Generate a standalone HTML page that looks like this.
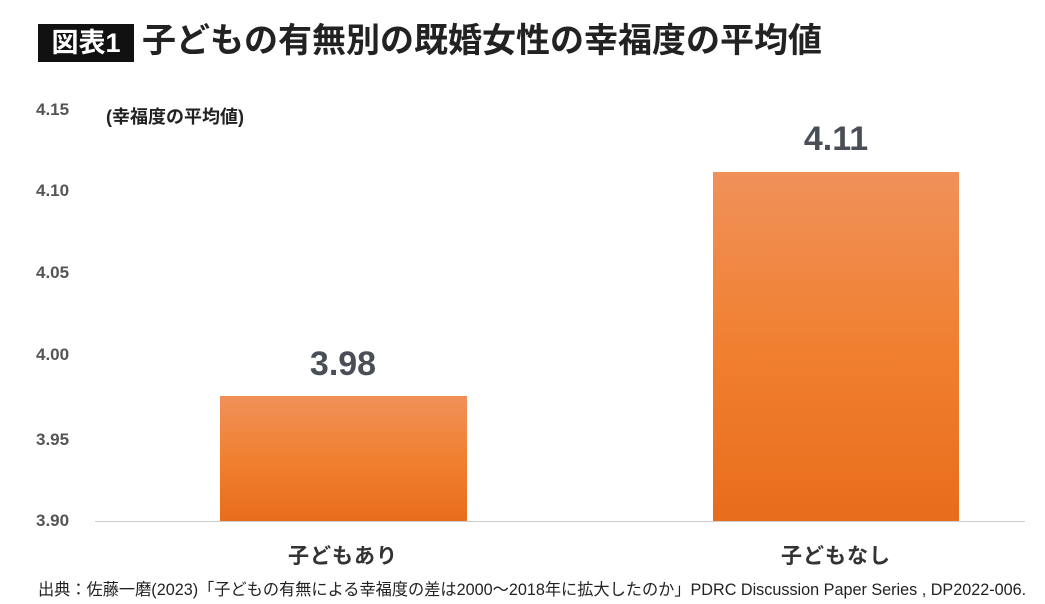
<!DOCTYPE html>
<html><head><meta charset="utf-8"><style>
body{margin:0;width:1045px;height:604px;background:#fff;overflow:hidden;position:relative;font-family:"Liberation Sans","Noto Sans CJK JP",sans-serif;}
.a{position:absolute;white-space:nowrap}
.yl{position:absolute;left:36px;font-size:17px;font-weight:bold;color:#555;}
.bar{position:absolute;background:linear-gradient(#f0915a,#f08030 50%,#e86d1c);}
.v{position:absolute;font-size:34px;font-weight:bold;color:#4a4f57;text-align:center;width:246px}
.c{position:absolute;font-size:21px;font-weight:bold;color:#333;text-align:center;width:246px;letter-spacing:1px}
</style></head><body>
<div class="a" style="left:38px;top:24px;width:96px;height:38px;background:#111;color:#fff;font-size:27px;font-weight:bold;line-height:38px;text-align:center">図表1</div>
<div class="a" style="left:142px;top:20px;font-size:34px;font-weight:bold;color:#222;line-height:42px">子どもの有無別の既婚女性の幸福度の平均値</div>
<div class="a" style="left:106px;top:103px;font-size:18px;font-weight:bold;color:#222">(幸福度の平均値)</div>
<div class="yl" style="top:100px">4.15</div>
<div class="yl" style="top:181px">4.10</div>
<div class="yl" style="top:263px">4.05</div>
<div class="yl" style="top:345px">4.00</div>
<div class="yl" style="top:430px">3.95</div>
<div class="yl" style="top:511px">3.90</div>
<div class="a" style="left:95px;top:521px;width:930px;height:1px;background:#ccc"></div>
<div class="bar" style="left:220px;top:396px;width:247px;height:125px"></div>
<div class="bar" style="left:713px;top:172px;width:246px;height:349px"></div>
<div class="v" style="left:220px;top:345px">3.98</div>
<div class="v" style="left:713px;top:120px">4.11</div>
<div class="c" style="left:220px;top:540px">子どもあり</div>
<div class="c" style="left:713px;top:540px">子どもなし</div>
<div class="a" style="left:38px;top:576px;font-size:16.2px;color:#222">出典：佐藤一磨(2023)「子どもの有無による幸福度の差は2000～2018年に拡大したのか」PDRC Discussion Paper Series , DP2022-006.</div>
</body></html>
